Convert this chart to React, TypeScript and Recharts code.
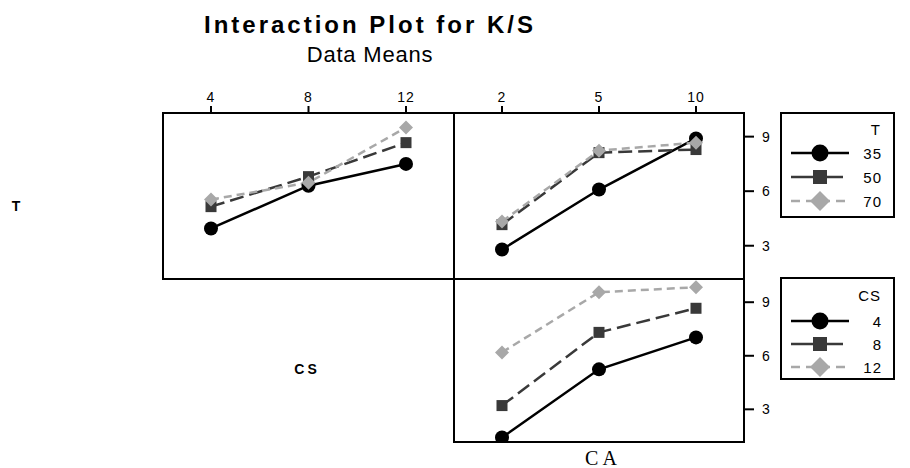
import React from 'react';
import { LineChart, Line, XAxis, YAxis } from 'recharts';

// factor levels
const csLevels = ['4', '8', '12'];
const caLevels = ['2', '5', '10'];
const tLevels = ['35', '50', '70'];
const yTicks = [3, 6, 9];

// K/S means, trace = T, x = CS
const t35ByCS = [3.95, 6.3, 7.5];
const t50ByCS = [5.15, 6.8, 8.67];
const t70ByCS = [5.54, 6.47, 9.5];

// trace = T, x = CA
const t35ByCA = [2.79, 6.09, 8.9];
const t50ByCA = [4.16, 8.12, 8.29];
const t70ByCA = [4.33, 8.23, 8.67];

// trace = CS, x = CA
const cs4ByCA = [1.42, 5.24, 7.03];
const cs8ByCA = [3.21, 7.31, 8.66];
const cs12ByCA = [6.19, 9.56, 9.84];

const FONT = '"Liberation Sans", Arial, Helvetica, sans-serif';
const Y_DOMAIN: [number, number] = [1.17, 10.3];

const STYLES = [
  { stroke: '#000000', dash: undefined, legendDash: undefined, shape: 'circle' },
  { stroke: '#393939', dash: '14 6', legendDash: undefined, shape: 'square' },
  { stroke: '#a8a8a8', dash: '8 5', legendDash: '9 6', shape: 'diamond' },
];

const toRows = (levels: string[], series: number[][]) =>
  levels.map((x, i) => ({ x, s0: series[0][i], s1: series[1][i], s2: series[2][i] }));

const dataTCS = toRows(csLevels, [t35ByCS, t50ByCS, t70ByCS]);
const dataTCA = toRows(caLevels, [t35ByCA, t50ByCA, t70ByCA]);
const dataCSCA = toRows(caLevels, [cs4ByCA, cs8ByCA, cs12ByCA]);

function marker(shape: string, cx: number, cy: number, color: string, big: boolean, key?: string) {
  if (shape === 'circle') {
    return <circle key={key} cx={cx} cy={cy} r={big ? 8.5 : 7} fill={color} />;
  }
  if (shape === 'square') {
    const h = big ? 7 : 5.5;
    return <rect key={key} x={cx - h} y={cy - h} width={h * 2} height={h * 2} fill={color} />;
  }
  const d = big ? 10 : 7;
  return (
    <polygon
      key={key}
      points={`${cx},${cy - d} ${cx + d},${cy} ${cx},${cy + d} ${cx - d},${cy}`}
      fill={color}
    />
  );
}

const tickStyle = { fontSize: 14, fill: '#000', fontFamily: FONT, letterSpacing: 1 };

function Panel({ data, left, top, showX, showY, plotW, plotH }: any) {
  const xH = showX ? 30 : 0;
  const yW = showY ? 40 : 0;
  return (
    <div style={{ position: 'absolute', left, top: top - xH }}>
      <LineChart
        width={plotW + yW}
        height={plotH + xH}
        data={data}
        margin={{ top: 0, right: 0, bottom: 0, left: 0 }}
      >
        <XAxis
          dataKey="x"
          orientation="top"
          hide={!showX}
          height={30}
          interval={0}
          padding={{ left: 48, right: 48 }}
          axisLine={false}
          tickSize={7}
          tickMargin={4}
          tickLine={{ stroke: '#000', strokeWidth: 2 }}
          tick={tickStyle}
        />
        <YAxis
          type="number"
          orientation="right"
          domain={Y_DOMAIN}
          ticks={yTicks}
          hide={!showY}
          width={40}
          axisLine={false}
          tickSize={10}
          tickMargin={8}
          tickLine={{ stroke: '#000', strokeWidth: 2 }}
          tick={{ ...tickStyle, letterSpacing: 0 }}
        />
        {STYLES.map((s, k) => (
          <Line
            key={k}
            dataKey={`s${k}`}
            stroke={s.stroke}
            strokeWidth={2.5}
            strokeDasharray={s.dash}
            isAnimationActive={false}
            dot={(p: any) => marker(s.shape, p.cx, p.cy, s.stroke, false, `d${k}-${p.index}`)}
            activeDot={false}
          />
        ))}
      </LineChart>
    </div>
  );
}

function LegendBox({ x, y, h, title, labels, rowYs, titleY }: any) {
  return (
    <g>
      <rect x={x} y={y} width={113} height={h} fill="none" stroke="#000" strokeWidth={2} />
      <text x={x + 100} y={titleY} textAnchor="end" fontSize={15} fontFamily={FONT} letterSpacing={1}>
        {title}
      </text>
      {labels.map((lab: string, i: number) => {
        const s = STYLES[i];
        const ry = rowYs[i];
        return (
          <g key={lab}>
            <line
              x1={x + 10}
              x2={x + (i === 1 ? 62 : 68)}
              y1={ry}
              y2={ry}
              stroke={s.stroke}
              strokeWidth={2.5}
              strokeDasharray={s.legendDash}
            />
            {marker(s.shape, x + 39, ry, s.stroke, true)}
            <text x={x + 101} y={ry + 5.5} textAnchor="end" fontSize={15} fontFamily={FONT} letterSpacing={1}>
              {lab}
            </text>
          </g>
        );
      })}
    </g>
  );
}

export default function App() {
  return (
    <div style={{ position: 'absolute', left: 0, top: 0, width: 910, height: 468, background: '#fff', overflow: 'hidden' }}>
      <svg width={910} height={468} style={{ position: 'absolute', left: 0, top: 0 }}>
        <text x={370} y={33} textAnchor="middle" fontSize={24} fontWeight="bold" fontFamily={FONT} letterSpacing={3}>
          Interaction Plot for K/S
        </text>
        <text x={370} y={62} textAnchor="middle" fontSize={22} fontFamily={FONT} letterSpacing={0.8}>
          Data Means
        </text>
        <text x={16} y={211} textAnchor="middle" fontSize={14} fontWeight="bold" fontFamily={FONT}>
          T
        </text>
        <text x={307} y={374} textAnchor="middle" fontSize={14} fontWeight="bold" fontFamily={FONT} letterSpacing={3}>
          CS
        </text>
        <text x={603} y={465} textAnchor="middle" fontSize={20} fontFamily='"Liberation Serif", "Times New Roman", serif' letterSpacing={4}>
          CA
        </text>
        <rect x={163} y={113} width={291} height={166} fill="none" stroke="#000" strokeWidth={2} />
        <rect x={454} y={113} width={290} height={166} fill="none" stroke="#000" strokeWidth={2} />
        <rect x={454} y={279} width={290} height={163} fill="none" stroke="#000" strokeWidth={2} />
        <LegendBox x={781} y={113} h={104} title="T" labels={tLevels} rowYs={[153, 177, 201]} titleY={135} />
        <LegendBox x={781} y={278} h={101} title="CS" labels={csLevels} rowYs={[321, 344, 367]} titleY={301} />
      </svg>
      <Panel data={dataTCS} left={163} top={113} showX showY={false} plotW={291} plotH={166} />
      <Panel data={dataTCA} left={454} top={113} showX showY plotW={290} plotH={166} />
      <Panel data={dataCSCA} left={454} top={279} showX={false} showY plotW={290} plotH={163} />
    </div>
  );
}
